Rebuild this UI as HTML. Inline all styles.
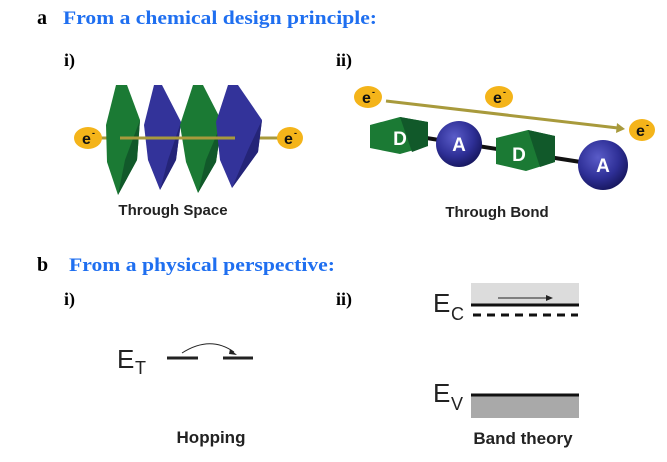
<!DOCTYPE html>
<html><head><meta charset="utf-8"><style>
html,body{margin:0;padding:0;background:#fff}
svg{display:block}
</style></head><body>
<svg width="667" height="462" viewBox="0 0 667 462" xmlns="http://www.w3.org/2000/svg">
<defs>
<radialGradient id="sph" cx="0.4" cy="0.35" r="0.7">
<stop offset="0" stop-color="#5a5cc8"/><stop offset="0.6" stop-color="#2e2f96"/><stop offset="1" stop-color="#15155a"/>
</radialGradient>
</defs>
<g font-family="'Liberation Serif',serif" font-weight="bold">
<text x="37" y="24" font-size="20" fill="#000">a</text>
<text x="63" y="24" font-size="19" fill="#1f6ff0" textLength="314" lengthAdjust="spacingAndGlyphs">From a chemical design principle:</text>
<text x="64" y="66" font-size="18" fill="#000">i)</text>
<text x="336" y="66" font-size="18" fill="#000">ii)</text>
<text x="37" y="271" font-size="20" fill="#000">b</text>
<text x="69" y="271" font-size="19" fill="#1f6ff0" textLength="266" lengthAdjust="spacingAndGlyphs">From a physical perspective:</text>
<text x="64" y="305" font-size="18" fill="#000">i)</text>
<text x="336" y="305" font-size="18" fill="#000">ii)</text>
</g>

<!-- Through space -->
<line x1="96" y1="138" x2="280" y2="138" stroke="#a89a3c" stroke-width="3"/>
<polygon points="280,133 287,138 280,143" fill="#a89a3c"/>
<g>
<polygon points="116,85 127,85 140,120 137,160 118,195 107,162 106,125" fill="#1b7a34"/>
<polygon points="140,120 137,160 118,195 125,160" fill="#11592a"/>
<polygon points="154,85 162,85 181,122 176,160 160,190 148,160 144,125" fill="#33339a"/>
<polygon points="181,122 176,160 160,190 168,160" fill="#242478"/>
<polygon points="193,85 203,85 222,122 216,162 198,193 186,162 180,125" fill="#1b7a34"/>
<polygon points="222,122 216,162 198,193 206,160" fill="#11592a"/>
<polygon points="228,85 238,85 262,120 258,152 232,188 220,160 216,122" fill="#33339a"/>
<polygon points="262,120 258,152 232,188 248,150" fill="#242478"/>
</g>
<line x1="120" y1="138" x2="160" y2="138" stroke="#a89a3c" stroke-width="3"/>
<line x1="160" y1="138" x2="200" y2="138" stroke="#a89a3c" stroke-width="3"/>
<line x1="200" y1="138" x2="235" y2="138" stroke="#a89a3c" stroke-width="3"/>
<ellipse cx="88" cy="138" rx="14" ry="11" fill="#f4b41a"/>
<ellipse cx="290" cy="138" rx="13" ry="11" fill="#f4b41a"/>
<g font-family="'Liberation Sans',sans-serif" font-weight="bold" fill="#111">
<text x="82" y="144" font-size="16">e</text><text x="92" y="136" font-size="9">-</text>
<text x="284" y="144" font-size="16">e</text><text x="294" y="136" font-size="9">-</text>
<text x="173" y="215" font-size="15" text-anchor="middle" fill="#222">Through Space</text>
</g>

<!-- Through bond -->
<line x1="386" y1="101" x2="618" y2="128" stroke="#a89a3c" stroke-width="3"/>
<polygon points="617,123 625,129 616,133" fill="#a89a3c"/>
<line x1="420" y1="137" x2="600" y2="165" stroke="#111" stroke-width="4"/>
<polygon points="370,125 400,117 428,122 428,146 400,154 370,148" fill="#1b7a34"/>
<polygon points="400,117 428,122 428,146 412,152" fill="#11592a"/>
<text x="400" y="145" font-family="'Liberation Sans',sans-serif" font-weight="bold" font-size="19" fill="#fff" text-anchor="middle">D</text>
<circle cx="459" cy="144" r="23" fill="url(#sph)"/>
<text x="459" y="151" font-family="'Liberation Sans',sans-serif" font-weight="bold" font-size="19" fill="#fff" text-anchor="middle">A</text>
<polygon points="496,138 528,130 555,136 555,162 526,171 496,164" fill="#1b7a34"/>
<polygon points="528,130 555,136 555,162 540,167" fill="#11592a"/>
<text x="519" y="161" font-family="'Liberation Sans',sans-serif" font-weight="bold" font-size="19" fill="#fff" text-anchor="middle">D</text>
<circle cx="603" cy="165" r="25" fill="url(#sph)"/>
<text x="603" y="172" font-family="'Liberation Sans',sans-serif" font-weight="bold" font-size="19" fill="#fff" text-anchor="middle">A</text>
<ellipse cx="368" cy="97" rx="14" ry="11" fill="#f4b41a"/>
<ellipse cx="499" cy="97" rx="14" ry="11" fill="#f4b41a"/>
<ellipse cx="642" cy="130" rx="13" ry="11" fill="#f4b41a"/>
<g font-family="'Liberation Sans',sans-serif" font-weight="bold" fill="#111">
<text x="362" y="103" font-size="16">e</text><text x="372" y="95" font-size="9">-</text>
<text x="493" y="103" font-size="16">e</text><text x="503" y="95" font-size="9">-</text>
<text x="636" y="136" font-size="16">e</text><text x="646" y="128" font-size="9">-</text>
<text x="497" y="217" font-size="15" text-anchor="middle" fill="#222">Through Bond</text>
</g>

<!-- Hopping -->
<g font-family="'Liberation Sans',sans-serif" fill="#222">
<text x="117" y="368" font-size="26">E</text><text x="135" y="374" font-size="18">T</text>
<text x="211" y="443" font-size="17" text-anchor="middle" font-weight="bold">Hopping</text>
</g>
<line x1="167" y1="358" x2="198" y2="358" stroke="#222" stroke-width="3"/>
<line x1="223" y1="358" x2="253" y2="358" stroke="#222" stroke-width="3"/>
<path d="M182,353 Q210,335 234,352" fill="none" stroke="#222" stroke-width="1"/>
<polygon points="230,349 237,355 229,354" fill="#222"/>

<!-- Band -->
<rect x="471" y="283" width="108" height="22" fill="#dcdcdc"/>
<line x1="471" y1="305" x2="579" y2="305" stroke="#111" stroke-width="3"/>
<line x1="473" y1="315" x2="578" y2="315" stroke="#111" stroke-width="3" stroke-dasharray="8,6"/>
<line x1="498" y1="298" x2="548" y2="298" stroke="#222" stroke-width="1"/>
<polygon points="546,295 553,298 546,301" fill="#222"/>
<rect x="471" y="396" width="108" height="22" fill="#a9a9a9"/>
<line x1="471" y1="395" x2="579" y2="395" stroke="#111" stroke-width="3"/>
<g font-family="'Liberation Sans',sans-serif" fill="#222">
<text x="433" y="312" font-size="26">E</text><text x="451" y="320" font-size="18">C</text>
<text x="433" y="402" font-size="26">E</text><text x="451" y="410" font-size="18">V</text>
<text x="523" y="444" font-size="17" text-anchor="middle" font-weight="bold">Band theory</text>
</g>
</svg>
</body></html>
